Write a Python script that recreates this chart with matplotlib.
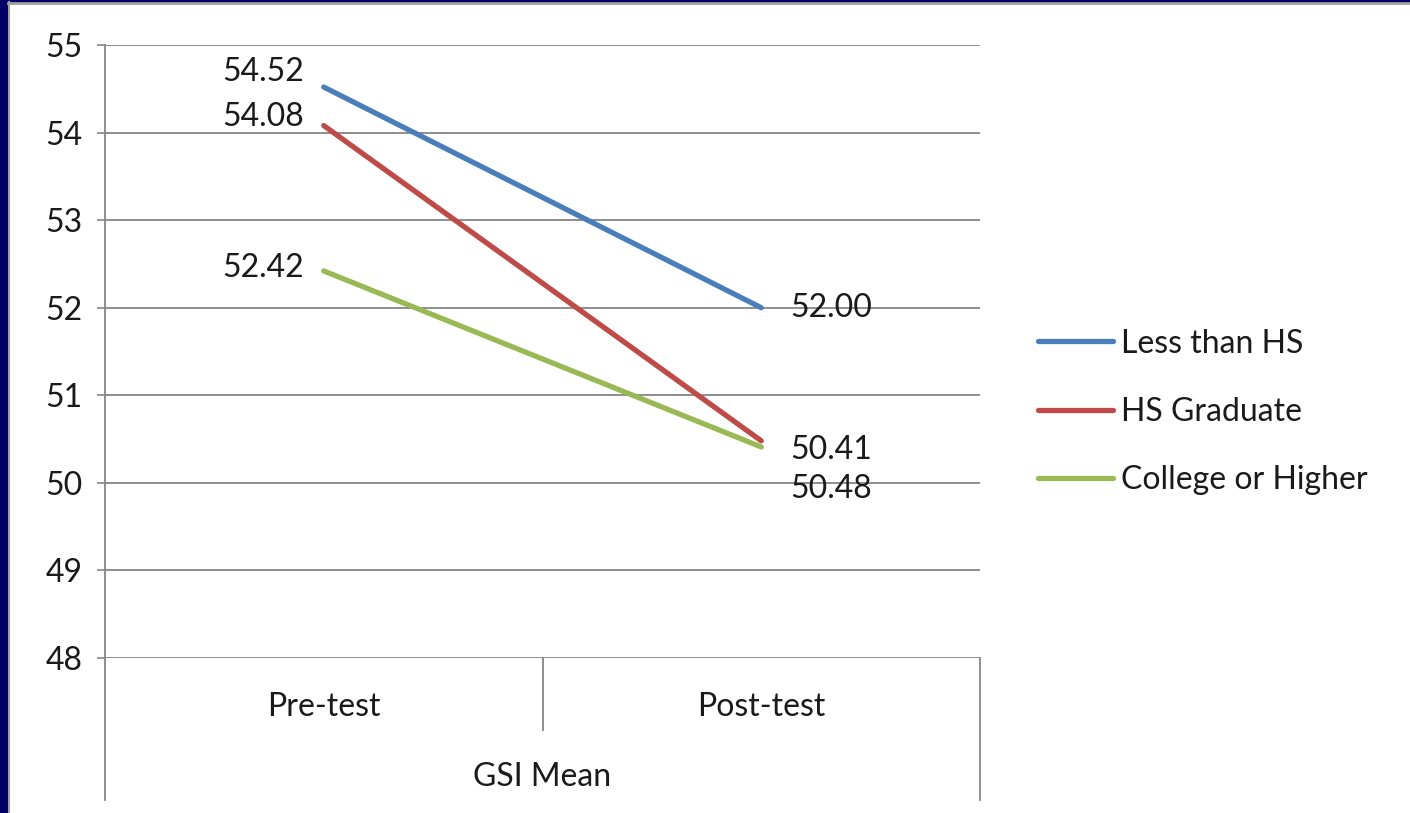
import matplotlib.pyplot as plt
from matplotlib.patches import Rectangle
from matplotlib.lines import Line2D

# === Data ===
categories = ["Pre-test", "Post-test"]
group_label = "GSI Mean"
series_names = ["Less than HS", "HS Graduate", "College or Higher"]
less_than_hs = [54.52, 52.00]
hs_graduate = [54.08, 50.48]
college_or_higher = [52.42, 50.41]
y_ticks = [48, 49, 50, 51, 52, 53, 54, 55]

series = [less_than_hs, hs_graduate, college_or_higher]
colors = ["#4A7EBB", "#BE4B48", "#98B954"]
# label offsets in points (dx, dy) for pre / post value labels
pre_offsets = [(-14, 11), (-14, 6), (-14, 2)]
post_offsets = [(21, 0), (21, -35), (21, -2)]

plt.rcParams['font.family'] = ['Lato', 'DejaVu Sans']
fs = 23
txt = "#1A1A1A"
grid_c = "#868686"

fig = plt.figure(figsize=(14.1, 8.13), dpi=100)
fig.patch.set_facecolor("white")

# slide frame
fig.patches.append(Rectangle((0, 0), 8 / 1410, 1, transform=fig.transFigure, color="#000066", zorder=0))
fig.patches.append(Rectangle((0, 1 - 2 / 813), 1, 2 / 813, transform=fig.transFigure, color="#000066", zorder=0))
fig.lines.append(Line2D([8.5 / 1410, 8.5 / 1410], [0, 1 - 2 / 813], transform=fig.transFigure, color="#A0A0A0", lw=1.5))
fig.lines.append(Line2D([8 / 1410, 1], [1 - 3.5 / 813, 1 - 3.5 / 813], transform=fig.transFigure, color="#A0A0A0", lw=2))

ax = fig.add_axes([105 / 1410, 1 - 658 / 813, 875 / 1410, 613 / 813])
x = [0, 1]
for vals, name, c, po, qo in zip(series, series_names, colors, pre_offsets, post_offsets):
    ax.plot(x, vals, color=c, lw=3.8, solid_capstyle="round", label=name, zorder=3)
    ax.annotate(f"{vals[0]:.2f}", (x[0], vals[0]), xytext=po, textcoords="offset points",
                ha="right", va="center", fontsize=fs, color=txt)
    ax.annotate(f"{vals[1]:.2f}", (x[1], vals[1]), xytext=qo, textcoords="offset points",
                ha="left", va="center", fontsize=fs, color=txt)

ax.set_xlim(-0.5, 1.5)
ax.set_ylim(48, 55)
ax.set_yticks(y_ticks)
ax.set_yticklabels([str(t) for t in y_ticks], fontsize=fs, color=txt)
ax.tick_params(axis="y", length=6, width=1.2, color=grid_c, pad=10)
ax.set_xticks([])
for t in y_ticks:
    ax.axhline(t, color=grid_c, lw=1.3, zorder=1)
for s in ["top", "right", "bottom"]:
    ax.spines[s].set_visible(False)
ax.spines["left"].set_color(grid_c)
ax.spines["left"].set_linewidth(1.3)

# multi-level category axis
tr = ax.get_xaxis_transform()
bottom_lvl1 = -72 / 613
bottom_lvl2 = -142 / 613
ax.plot([-0.5, -0.5], [0, bottom_lvl2], transform=tr, color=grid_c, lw=1.3, clip_on=False)
ax.plot([0.5, 0.5], [0, bottom_lvl1], transform=tr, color=grid_c, lw=1.3, clip_on=False)
ax.plot([1.5, 1.5], [0, bottom_lvl2], transform=tr, color=grid_c, lw=1.3, clip_on=False)
for i, cat in enumerate(categories):
    ax.text(i, -49 / 613, cat, transform=tr, ha="center", va="center", fontsize=fs, color=txt)
ax.text(0.5, -119 / 613, group_label, transform=tr, ha="center", va="center", fontsize=fs, color=txt)

ax.legend(loc="center left", bbox_to_anchor=(1009 / 1410, 1 - 412 / 813), bbox_transform=fig.transFigure,
          frameon=False, fontsize=fs, handlelength=2.35, handletextpad=0.25, labelspacing=1.2,
          labelcolor=txt)

fig.savefig("out.png", dpi=100)
